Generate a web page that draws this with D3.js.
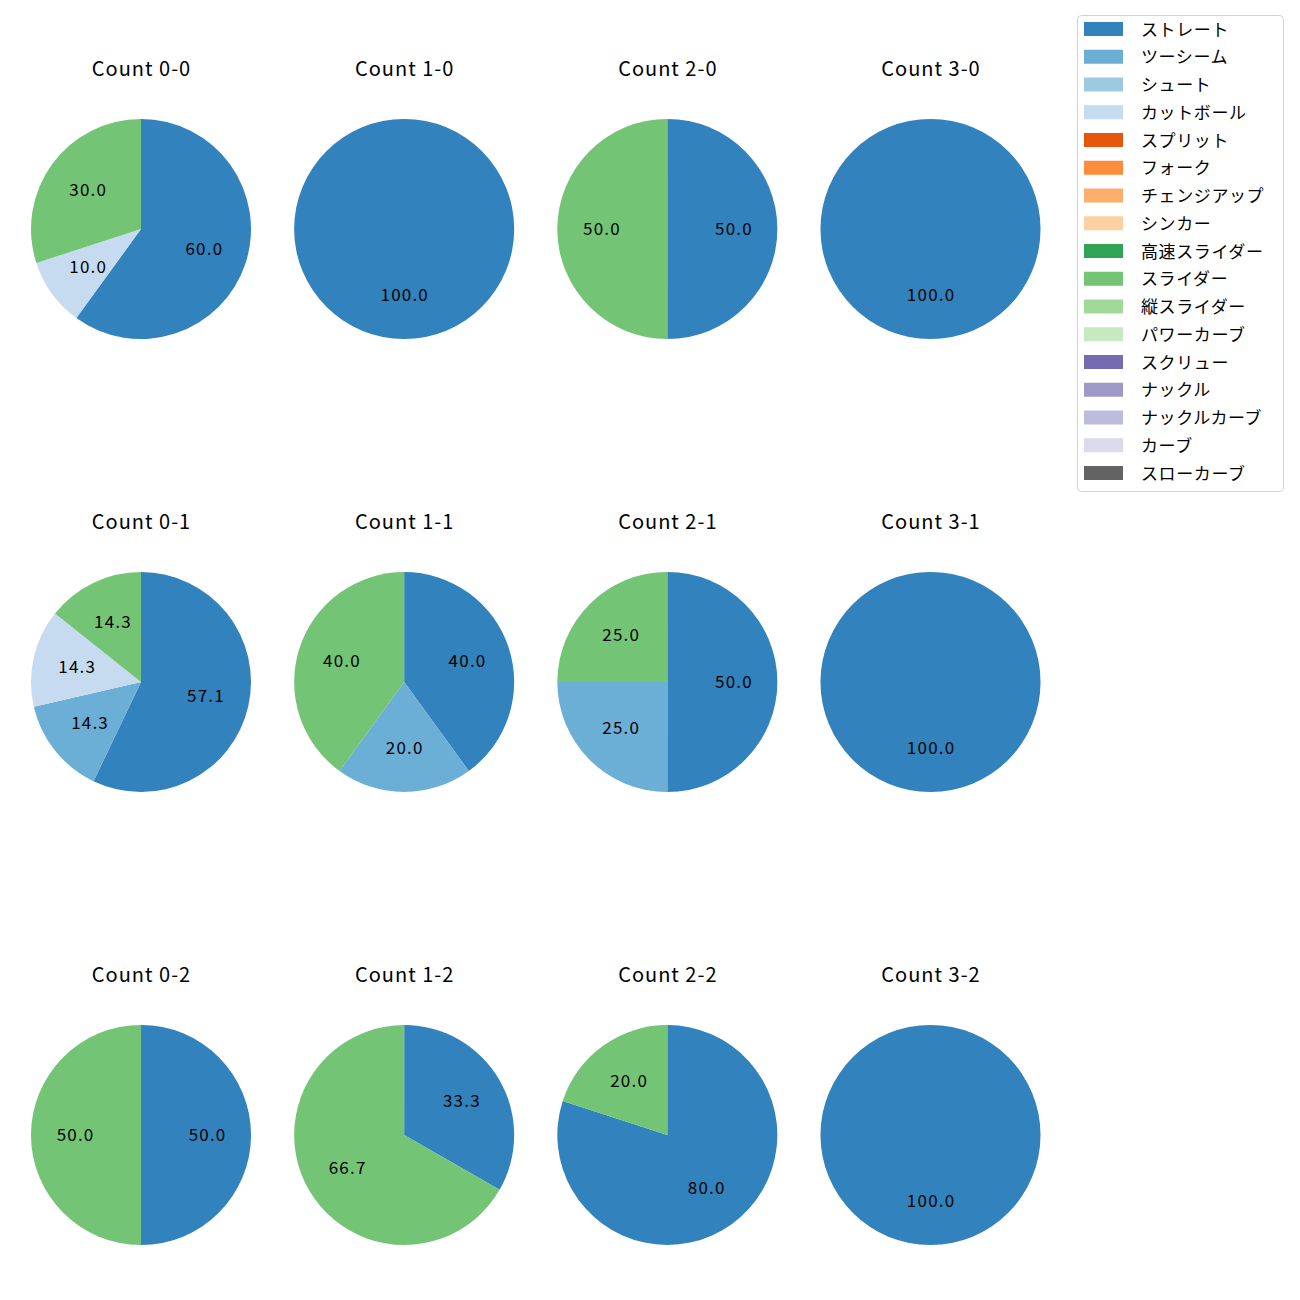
<!DOCTYPE html>
<html>
<head>
<meta charset="utf-8">
<script src="https://cdn.jsdelivr.net/npm/d3@7"></script>
<style>
  html, body { margin: 0; padding: 0; background: #fff; }
  svg { display: block; font-family: "Noto Sans CJK JP", "Noto Sans", sans-serif; }
</style>
</head>
<body>
<svg id="chart" width="1300" height="1300"></svg>
<script>
// Pitch types (legend order) and colours
const pitchTypes = ["ストレート","ツーシーム","シュート","カットボール","スプリット","フォーク","チェンジアップ","シンカー","高速スライダー","スライダー","縦スライダー","パワーカーブ","スクリュー","ナックル","ナックルカーブ","カーブ","スローカーブ"];
const pitchColors = ["#3182bd","#6baed6","#9ecae1","#c6dbef","#e6550d","#fd8d3c","#fdae6b","#fdd0a2","#31a354","#74c476","#a1d99b","#c7e9c0","#756bb1","#9e9ac8","#bcbddc","#dadaeb","#636363"];

// Counts (balls-strikes) in grid order: rows = strikes, cols = balls
const countLabels = ["0-0","1-0","2-0","3-0","0-1","1-1","2-1","3-1","0-2","1-2","2-2","3-2"];

// Percent shares per count, as [pitch type, value]
const count00 = [["ストレート",60.0],["カットボール",10.0],["スライダー",30.0]];
const count10 = [["ストレート",100.0]];
const count20 = [["ストレート",50.0],["スライダー",50.0]];
const count30 = [["ストレート",100.0]];
const count01 = [["ストレート",57.1],["ツーシーム",14.3],["カットボール",14.3],["スライダー",14.3]];
const count11 = [["ストレート",40.0],["ツーシーム",20.0],["スライダー",40.0]];
const count21 = [["ストレート",50.0],["ツーシーム",25.0],["スライダー",25.0]];
const count31 = [["ストレート",100.0]];
const count02 = [["ストレート",50.0],["スライダー",50.0]];
const count12 = [["ストレート",33.3],["スライダー",66.7]];
const count22 = [["ストレート",80.0],["スライダー",20.0]];
const count32 = [["ストレート",100.0]];
const countData = [count00,count10,count20,count30,count01,count11,count21,count31,count02,count12,count22,count32];

const svg = d3.select("#chart");
const color = d3.scaleOrdinal().domain(pitchTypes).range(pitchColors);

const colX = d3.scalePoint().domain([0,1,2,3]).range([141, 930.5]);
const rowY = d3.scalePoint().domain([0,1,2]).range([229, 1135]);
const R = 110;

const pie = d3.pie().sort(null).value(d => d[1]);
const arc = d3.arc().innerRadius(0).outerRadius(R);
const labelArc = d3.arc().innerRadius(R * 0.6).outerRadius(R * 0.6);

countData.forEach((data, i) => {
  const col = i % 4, row = Math.floor(i / 4);
  const cx = colX(col), cy = rowY(row);
  const g = svg.append("g").attr("transform", `translate(${cx},${cy})`);
  const total = d3.sum(data, d => d[1]);
  const arcs = pie(data);
  g.selectAll("path").data(arcs).join("path")
    .attr("d", arc)
    .attr("fill", d => color(d.data[0]));
  g.selectAll("text.lbl").data(arcs).join("text")
    .attr("class", "lbl")
    .attr("transform", d => { const c = labelArc.centroid(d); return `translate(${c[0] + 0.6},${c[1] - 2})`; })
    .attr("text-anchor", "middle")
    .attr("dominant-baseline", "central")
    .attr("font-size", 17)
    .attr("letter-spacing", 1.2)
    .attr("fill", "#000")
    .text(d => (d.data[1] / total * 100).toFixed(1));
  svg.append("text")
    .attr("x", cx + 0.5).attr("y", cy - 162)
    .attr("text-anchor", "middle")
    .attr("dominant-baseline", "central")
    .attr("font-size", 20)
    .attr("letter-spacing", 1)
    .attr("fill", "#000")
    .text("Count " + countLabels[i]);
});

// Legend
const legend = svg.append("g").attr("transform", "translate(1077,15)");
legend.append("rect")
  .attr("x", 0.5).attr("y", 0.5).attr("width", 206).attr("height", 476)
  .attr("rx", 4).attr("fill", "#fff").attr("stroke", "#d0d0d0");
const ly = d3.scalePoint().domain(pitchTypes).range([14, 458]);
const items = legend.selectAll("g.item").data(pitchTypes).join("g")
  .attr("class", "item")
  .attr("transform", d => `translate(0,${ly(d)})`);
items.append("rect")
  .attr("x", 7).attr("y", -7).attr("width", 39).attr("height", 14)
  .attr("fill", d => color(d));
items.append("text")
  .attr("x", 64).attr("y", -1)
  .attr("dominant-baseline", "central")
  .attr("font-size", 17)
  .attr("letter-spacing", 0.6)
  .attr("fill", "#000")
  .text(d => d);
</script>
</body>
</html>
